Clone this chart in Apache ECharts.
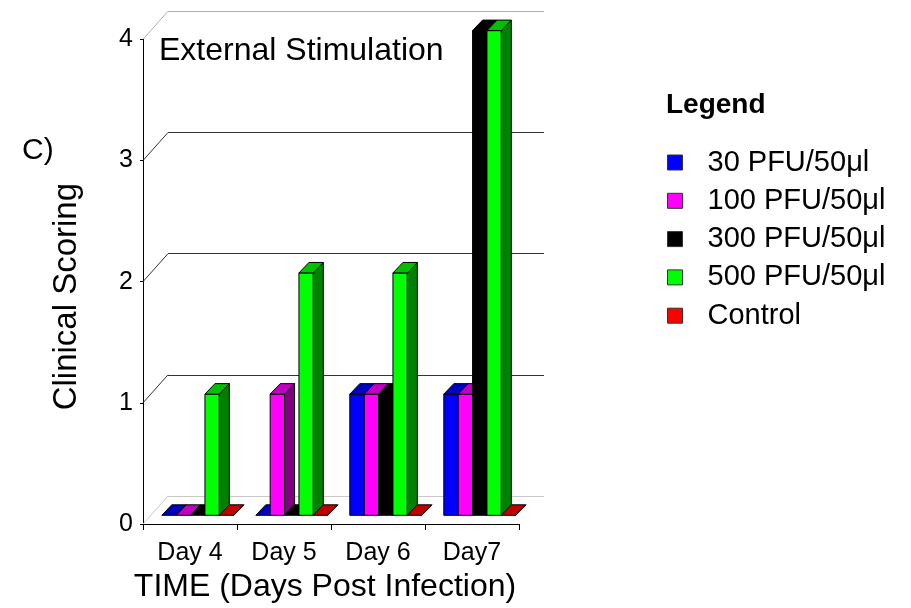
<!DOCTYPE html>
<html>
<head>
<meta charset="utf-8">
<script src="https://cdn.jsdelivr.net/npm/echarts@6/dist/echarts.min.js"></script>
<style>
  html, body { margin: 0; padding: 0; background: #fff; }
  #chart { width: 911px; height: 608px; }
</style>
</head>
<body>
<div id="chart"></div>
<script>
// Clinical scoring per day for each inoculum dose
const days = ['Day 4', 'Day 5', 'Day 6', 'Day7'];
const seriesNames = ['30 PFU/50\u03bcl', '100 PFU/50\u03bcl', '300 PFU/50\u03bcl', '500 PFU/50\u03bcl', 'Control'];
const dose30 = [0, 0, 1, 1];
const dose100 = [0, 1, 1, 1];
const dose300 = [0, 0, 1, 4];
const dose500 = [1, 2, 2, 4];
const control = [0, 0, 0, 0];
const yTicks = [0, 1, 2, 3, 4];

const values = [dose30, dose100, dose300, dose500, control];

// front / top / side shades for each box
const shades = [
  { front: '#0000ff', top: '#0000c0', side: '#000080' },
  { front: '#ff00ff', top: '#c000c0', side: '#800080' },
  { front: '#000000', top: '#000000', side: '#000000' },
  { front: '#00ff00', top: '#00c000', side: '#008000' },
  { front: '#ff0000', top: '#c00000', side: '#800000' }
];

const FONT = '"Liberation Sans", Arial, Helvetica, sans-serif';
const WALL = [25, -28];     // offset of the back wall
const BOX = [10, -10.5];    // depth of each box
const LIFT = [0, -8.7];     // boxes sit part way into the floor
const wallColors = ['#c8c8c8', '#333333', '#333333', '#333333', '#b0b0b0'];

function boxRenderer(idx) {
  return function (params, api) {
    const cat = api.value(0);
    const v = api.value(1);
    const base = api.coord([cat, 0]);
    const top = api.coord([cat, v]);
    const bw = api.size([1, 0])[0];
    const barW = bw * 0.153;
    const x0 = base[0] - bw / 2 + bw * 0.2 + idx * barW;
    const x1 = x0 + barW;
    const yB = base[1] + LIFT[1];
    const yT = top[1] + LIFT[1];
    const c = shades[idx];
    const stroke = { stroke: '#000', lineWidth: 1 };
    const children = [];
    if (yB - yT > 0.5) {
      children.push({
        type: 'polygon',
        shape: { points: [[x0, yT], [x1, yT], [x1, yB], [x0, yB]] },
        style: Object.assign({ fill: c.front }, stroke)
      });
    }
    children.push({
      type: 'polygon',
      shape: { points: [[x1, yT], [x1 + BOX[0], yT + BOX[1]], [x1 + BOX[0], yB + BOX[1]], [x1, yB]] },
      style: Object.assign({ fill: c.side }, stroke)
    });
    children.push({
      type: 'polygon',
      shape: { points: [[x0, yT], [x1, yT], [x1 + BOX[0], yT + BOX[1]], [x0 + BOX[0], yT + BOX[1]]] },
      style: Object.assign({ fill: c.top }, stroke)
    });
    return { type: 'group', children: children };
  };
}

const boxSeries = seriesNames.map(function (name, i) {
  return {
    name: name,
    type: 'custom',
    xAxisIndex: 0,
    yAxisIndex: 0,
    itemStyle: { color: shades[i].front },
    renderItem: boxRenderer(i),
    data: values[i].map(function (v, d) { return [d, v]; }),
    z: 5 + i
  };
});

// diagonal links from the front axis to the back wall
const wallLinks = {
  type: 'custom',
  xAxisIndex: 0,
  yAxisIndex: 0,
  silent: true,
  z: 1,
  renderItem: function (params, api) {
    const v = api.value(0);
    const p = api.coord([0, v]);
    const bw = api.size([1, 0])[0];
    const x = p[0] - bw / 2;
    return {
      type: 'line',
      shape: { x1: x, y1: p[1], x2: x + WALL[0], y2: p[1] + WALL[1] },
      style: { stroke: wallColors[params.dataIndex], lineWidth: 1 }
    };
  },
  data: yTicks.map(function (t) { return [t]; })
};

const chart = echarts.init(document.getElementById('chart'), null, { renderer: 'canvas' });

chart.setOption({
  backgroundColor: '#fff',
  animation: false,
  textStyle: { fontFamily: FONT, color: '#000' },
  title: [
    { text: 'External Stimulation', left: 159, top: 35, padding: 0,
      textStyle: { fontSize: 32, fontWeight: 'normal', color: '#000', fontFamily: FONT } },
    { text: 'Legend', left: 666, top: 91, padding: 0,
      textStyle: { fontSize: 28, fontWeight: 'bold', color: '#000', fontFamily: FONT } },
    { text: 'C)', left: 22, top: 136, padding: 0,
      textStyle: { fontSize: 30, fontWeight: 'normal', color: '#000', fontFamily: FONT } }
  ],
  legend: {
    orient: 'vertical',
    left: 667,
    top: 147.5,
    padding: 0,
    icon: 'rect',
    itemWidth: 15,
    itemHeight: 15,
    itemGap: 8.3,
    itemStyle: { borderColor: '#333', borderWidth: 1 },
    textStyle: { fontSize: 29, lineHeight: 30, color: '#000', fontFamily: FONT, padding: [0, 0, 0, 20] },
    data: seriesNames
  },
  grid: [
    { left: 143, right: 392, top: 39.3, bottom: 84 },
    { left: 143 + WALL[0], right: 392 - WALL[0], top: 39.3 + WALL[1], bottom: 84 - WALL[1] }
  ],
  xAxis: [
    {
      type: 'category',
      gridIndex: 0,
      data: days,
      boundaryGap: true,
      axisLine: { lineStyle: { color: '#000', width: 1 } },
      axisTick: { show: true, length: 6, lineStyle: { color: '#000' } },
      axisLabel: { fontSize: 25, color: '#000', margin: 17, fontFamily: FONT },
      name: 'TIME (Days Post Infection)',
      nameLocation: 'middle',
      nameGap: 47,
      nameTextStyle: { fontSize: 32, color: '#000', fontFamily: FONT, padding: [0, 12, 0, 0] }
    },
    {
      type: 'category',
      gridIndex: 1,
      data: days,
      show: false
    }
  ],
  yAxis: [
    {
      type: 'value',
      gridIndex: 0,
      min: 0,
      max: 4,
      interval: 1,
      axisLine: { show: true, lineStyle: { color: '#000', width: 1 } },
      axisTick: { show: true, length: 3, lineStyle: { color: '#000' } },
      axisLabel: { fontSize: 25, color: '#000', margin: 10, fontFamily: FONT },
      splitLine: { show: false },
      name: 'Clinical Scoring',
      nameLocation: 'middle',
      nameGap: 60,
      nameTextStyle: { fontSize: 33, color: '#000', fontFamily: FONT, padding: [0, 30, 0, 0] }
    },
    {
      type: 'value',
      gridIndex: 1,
      min: 0,
      max: 4,
      interval: 1,
      axisLine: { show: false },
      axisTick: { show: false },
      axisLabel: { show: false },
      splitLine: { show: true, lineStyle: { color: wallColors, width: 1 } }
    }
  ],
  series: [wallLinks].concat(boxSeries)
});
</script>
</body>
</html>
